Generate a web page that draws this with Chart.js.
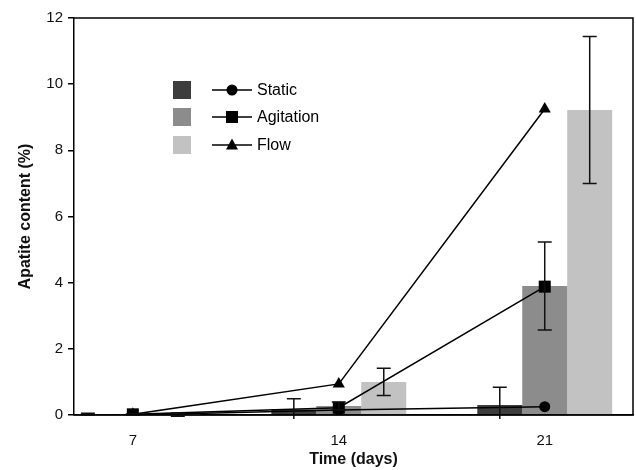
<!DOCTYPE html>
<html>
<head>
<meta charset="utf-8">
<script src="https://cdn.jsdelivr.net/npm/chart.js@4.4.1/dist/chart.umd.min.js"></script>
<style>
  body { margin: 0; background: #fff; }
  #wrap { width: 636px; height: 470px; }
</style>
</head>
<body>
<div id="wrap"><canvas id="apatiteChart" width="636" height="470"></canvas></div>
<script>
// values
const days = [7, 14, 21];
const yTicks = [0, 2, 4, 6, 8, 10, 12];
const seriesNames = ['Static', 'Agitation', 'Flow'];

const staticBar = [0.03, 0.17, 0.30];
const staticErr = [0.02, 0.32, 0.54];
const agitationBar = [0.02, 0.27, 3.90];
const agitationErr = [0.01, 0.12, 1.33];
const flowBar = [0.01, 1.00, 9.22];
const flowErr = [0.05, 0.41, 2.22];

const staticLine = [0.00, 0.15, 0.25];
const agitationLine = [0.02, 0.22, 3.88];
const flowLine = [0.02, 0.94, 9.25];

const barColors = ['#3d3d3d', '#8c8c8c', '#c2c2c2'];
const markers = ['circle', 'rect', 'triangle'];
const font = '"Liberation Sans", Arial, sans-serif';
const PLOT_RIGHT = 633;

const toPoints = vals => vals.map((v, i) => ({ x: days[i], y: v }));

const barSet = (label, vals, errs, color) => ({
  type: 'bar',
  label: label,
  data: toPoints(vals),
  errors: errs,
  backgroundColor: color,
  borderWidth: 0,
  categoryPercentage: 0.655,
  barPercentage: 1.0,
  order: 2
});

const lineSet = (label, vals, style, radius) => ({
  type: 'line',
  label: label,
  data: toPoints(vals),
  borderColor: '#000',
  backgroundColor: '#000',
  borderWidth: 1.5,
  pointStyle: style,
  pointRadius: radius,
  pointBackgroundColor: '#000',
  pointBorderWidth: 0,
  tension: 0,
  order: 1
});

// layout keeps a few px spare on the right, push the plot out to the frame
const stretchRight = {
  id: 'stretchRight',
  afterLayout(chart) {
    const x = chart.scales.x;
    x.right = PLOT_RIGHT;
    x.width = x.right - x.left;
    x.configure();
    chart.chartArea.right = PLOT_RIGHT;
    chart.chartArea.width = PLOT_RIGHT - chart.chartArea.left;
  }
};

// error bars on top of the bars
const errorBars = {
  id: 'errorBars',
  afterDatasetsDraw(chart) {
    const ctx = chart.ctx;
    const y = chart.scales.y;
    const area = chart.chartArea;
    ctx.save();
    ctx.beginPath();
    ctx.rect(area.left, area.top - 5, area.right - area.left, area.bottom - area.top + 9);
    ctx.clip();
    ctx.strokeStyle = '#111';
    ctx.lineWidth = 1.5;
    chart.data.datasets.forEach((ds, di) => {
      if (!ds.errors) return;
      const meta = chart.getDatasetMeta(di);
      meta.data.forEach((bar, i) => {
        const v = ds.data[i].y;
        const e = ds.errors[i];
        const top = y.getPixelForValue(v + e);
        const bot = y.getPixelForValue(v - e);
        const x = bar.x;
        ctx.beginPath();
        ctx.moveTo(x, top); ctx.lineTo(x, bot);
        ctx.moveTo(x - 7, top); ctx.lineTo(x + 7, top);
        ctx.moveTo(x - 7, bot); ctx.lineTo(x + 7, bot);
        ctx.stroke();
      });
    });
    ctx.restore();
  }
};

// box round the plot and the legend inside it
const frameAndLegend = {
  id: 'frameAndLegend',
  afterDraw(chart) {
    const ctx = chart.ctx;
    const a = chart.chartArea;
    ctx.save();
    ctx.strokeStyle = '#000';
    ctx.lineWidth = 1.5;
    ctx.beginPath();
    ctx.moveTo(a.left, a.top);
    ctx.lineTo(a.right, a.top);
    ctx.lineTo(a.right, a.bottom);
    ctx.lineTo(a.left, a.bottom);
    ctx.stroke();

    const rows = [90, 117, 145];
    ctx.font = '16px ' + font;
    ctx.textBaseline = 'middle';
    seriesNames.forEach((name, i) => {
      const ry = rows[i];
      ctx.fillStyle = barColors[i];
      ctx.fillRect(173, ry - 9, 18, 18);
      ctx.strokeStyle = '#000';
      ctx.lineWidth = 1.5;
      ctx.beginPath();
      ctx.moveTo(212, ry); ctx.lineTo(252, ry);
      ctx.stroke();
      ctx.fillStyle = '#000';
      const cx = 232;
      ctx.beginPath();
      if (markers[i] === 'circle') {
        ctx.arc(cx, ry, 5.5, 0, Math.PI * 2);
      } else if (markers[i] === 'rect') {
        ctx.rect(cx - 6, ry - 6, 12, 12);
      } else {
        ctx.moveTo(cx, ry - 6.5);
        ctx.lineTo(cx + 6, ry + 4.5);
        ctx.lineTo(cx - 6, ry + 4.5);
        ctx.closePath();
      }
      ctx.fill();
      ctx.fillText(name, 257, ry + 1);
    });
    ctx.restore();
  }
};

new Chart(document.getElementById('apatiteChart'), {
  data: {
    datasets: [
      barSet(seriesNames[0], staticBar, staticErr, barColors[0]),
      barSet(seriesNames[1], agitationBar, agitationErr, barColors[1]),
      barSet(seriesNames[2], flowBar, flowErr, barColors[2]),
      lineSet(seriesNames[0], staticLine, 'circle', 5.5),
      lineSet(seriesNames[1], agitationLine, 'rect', 8.5),
      lineSet(seriesNames[2], flowLine, 'triangle', 7)
    ]
  },
  options: {
    responsive: false,
    animation: false,
    layout: { padding: { top: 18, right: 3, left: 0, bottom: 0 } },
    plugins: {
      legend: { display: false },
      tooltip: { enabled: false }
    },
    scales: {
      x: {
        type: 'linear',
        min: 5,
        max: 24,
        offset: false,
        afterBuildTicks: s => { s.ticks = days.map(v => ({ value: v })); },
        afterFit: s => { s.height = 55; },
        grid: { display: false, drawTicks: false, offset: false },
        border: { display: true, color: '#000', width: 1.5 },
        ticks: {
          padding: 17,
          color: '#111',
          font: { family: font, size: 15 }
        },
        title: {
          display: true,
          text: 'Time (days)',
          color: '#111',
          padding: { top: 0, bottom: 1 },
          font: { family: font, size: 16, weight: 'bold' }
        }
      },
      y: {
        type: 'linear',
        min: 0,
        max: 12,
        afterBuildTicks: s => { s.ticks = yTicks.map(v => ({ value: v })); },
        afterFit: s => { s.width = 74; },
        grid: { drawOnChartArea: false, drawTicks: true, tickLength: 6, color: '#000', lineWidth: 1.5 },
        border: { display: true, color: '#000', width: 1.5 },
        ticks: {
          padding: 5,
          color: '#111',
          font: { family: font, size: 15 }
        },
        title: {
          display: true,
          text: 'Apatite content (%)',
          color: '#111',
          padding: { top: 16, bottom: 0 },
          font: { family: font, size: 16, weight: 'bold' }
        }
      }
    }
  },
  plugins: [stretchRight, errorBars, frameAndLegend]
});
</script>
</body>
</html>
